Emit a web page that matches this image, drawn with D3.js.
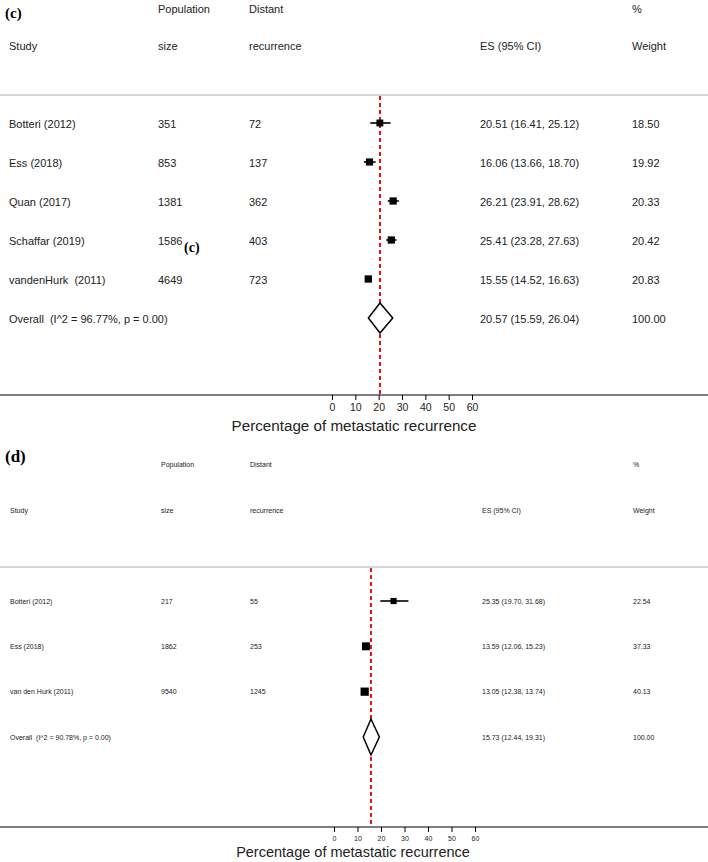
<!DOCTYPE html>
<meta charset="utf-8">
<script src="https://d3js.org/d3.v7.min.js"></script>
<style>
  body { margin: 0; background: #fff; }
  text { font-family: Arial, "Liberation Sans", sans-serif; fill: #222; white-space: pre; }
  .tag { font-family: "Times New Roman", "Liberation Serif", serif; font-weight: bold; fill: #000; }
</style>
<div id="my_dataviz"></div>
<script>
// ---- panel (c) data
const studiesC = ["Botteri (2012)", "Ess (2018)", "Quan (2017)", "Schaffar (2019)", "vandenHurk  (2011)"];
const sizeC = [351, 853, 1381, 1586, 4649];
const recurC = [72, 137, 362, 403, 723];
const esC = [20.51, 16.06, 26.21, 25.41, 15.55];
const lowC = [16.41, 13.66, 23.91, 23.28, 14.52];
const highC = [25.12, 18.70, 28.62, 27.63, 16.63];
const weightC = [18.50, 19.92, 20.33, 20.42, 20.83];
const overallC = { label: "Overall  (I^2 = 96.77%, p = 0.00)", es: 20.57, low: 15.59, high: 26.04, weight: 100.00 };

// ---- panel (d) data
const studiesD = ["Botteri (2012)", "Ess (2018)", "van den Hurk (2011)"];
const sizeD = [217, 1862, 9540];
const recurD = [55, 253, 1245];
const esD = [25.35, 13.59, 13.05];
const lowD = [19.70, 12.06, 12.38];
const highD = [31.68, 15.23, 13.74];
const weightD = [22.54, 37.33, 40.13];
const overallD = { label: "Overall  (I^2 = 90.78%, p = 0.00)", es: 15.73, low: 12.44, high: 19.31, weight: 100.00 };

const ticks = [0, 10, 20, 30, 40, 50, 60];
const headers1 = ["Population", "Distant", "%"];
const headers2 = ["Study", "size", "recurrence", "ES (95% CI)", "Weight"];
const axisTitle = "Percentage of metastatic recurrence";

const W = 708, H = 862;
const svg = d3.select("#my_dataviz").append("svg").attr("width", W).attr("height", H);

function drawPanel(o) {
  const g = svg.append("g");
  const fs = o.fs;
  const cols = o.cols; // study, size, recur, es, weight

  // tag
  g.append("text").attr("class", "tag").attr("x", 5).attr("y", o.tagY)
    .style("font-size", o.tagFs + "px").text(o.tag);

  // headers
  g.append("text").attr("x", cols[1]).attr("y", o.h1Y).style("font-size", fs + "px").text(headers1[0]);
  g.append("text").attr("x", cols[2]).attr("y", o.h1Y).style("font-size", fs + "px").text(headers1[1]);
  g.append("text").attr("x", cols[4]).attr("y", o.h1Y).style("font-size", fs + "px").text(headers1[2]);
  headers2.forEach((h, i) => {
    g.append("text").attr("x", cols[i]).attr("y", o.h2Y).style("font-size", fs + "px").text(h);
  });

  // separator
  g.append("line").attr("x1", 0).attr("x2", W).attr("y1", o.sepY).attr("y2", o.sepY)
    .attr("stroke", "#d6d6d6").attr("stroke-width", 2);

  const x = d3.scaleLinear().domain([0, 60]).range(o.xRange);
  const n = o.studies.length;
  const y = d3.scalePoint().domain(d3.range(n + 1)).range(o.yRange);

  const rows = o.studies.map((s, i) => ({
    study: s, size: o.size[i], recur: o.recur[i], es: o.es[i], low: o.low[i], high: o.high[i], w: o.weight[i], i: i
  }));

  // row texts
  const rg = g.selectAll("g.row").data(rows).enter().append("g").attr("class", "row")
    .attr("transform", d => "translate(0," + (y(d.i) + o.textDy) + ")")
    .style("font-size", fs + "px");
  rg.append("text").attr("x", cols[0]).text(d => d.study);
  rg.append("text").attr("x", cols[1]).text(d => d.size);
  rg.append("text").attr("x", cols[2]).text(d => d.recur);
  rg.append("text").attr("x", cols[3]).text(d => d.es.toFixed(2) + " (" + d.low.toFixed(2) + ", " + d.high.toFixed(2) + ")");
  rg.append("text").attr("x", cols[4]).text(d => d.w.toFixed(2));

  // overall text
  const oy = y(n) + o.textDy;
  const ov = o.overall;
  g.append("text").attr("x", cols[0]).attr("y", oy).style("font-size", fs + "px").text(ov.label);
  g.append("text").attr("x", cols[3]).attr("y", oy).style("font-size", fs + "px")
    .text(ov.es.toFixed(2) + " (" + ov.low.toFixed(2) + ", " + ov.high.toFixed(2) + ")");
  g.append("text").attr("x", cols[4]).attr("y", oy).style("font-size", fs + "px").text(ov.weight.toFixed(2));

  // reference line
  g.append("line").attr("x1", x(ov.es)).attr("x2", x(ov.es)).attr("y1", o.sepY + 1).attr("y2", o.axisY)
    .attr("stroke", "#ee1111").attr("stroke-width", 2).attr("stroke-dasharray", "4,3");

  // CIs and boxes
  g.selectAll("line.ci").data(rows).enter().append("line").attr("class", "ci")
    .attr("x1", d => x(d.low)).attr("x2", d => x(d.high))
    .attr("y1", d => y(d.i)).attr("y2", d => y(d.i))
    .attr("stroke", "#000").attr("stroke-width", 1.6);
  g.selectAll("rect.box").data(rows).enter().append("rect").attr("class", "box")
    .attr("x", d => x(d.es) - o.boxK * Math.sqrt(d.w) / 2)
    .attr("y", d => y(d.i) - o.boxK * Math.sqrt(d.w) / 2)
    .attr("width", d => o.boxK * Math.sqrt(d.w))
    .attr("height", d => o.boxK * Math.sqrt(d.w))
    .attr("fill", "#000");

  // diamond
  const cy = y(n), hh = o.diamondH / 2;
  g.append("path")
    .attr("d", d3.line()([[x(ov.low), cy], [x(ov.es), cy - hh], [x(ov.high), cy], [x(ov.es), cy + hh]]) + "Z")
    .attr("fill", "#fff").attr("stroke", "#000").attr("stroke-width", 1.5);

  // axis
  g.append("line").attr("x1", 0).attr("x2", W).attr("y1", o.axisY).attr("y2", o.axisY)
    .attr("stroke", "#000").attr("stroke-width", 1.2);
  const ax = g.append("g").attr("transform", "translate(0," + o.axisY + ")")
    .call(d3.axisBottom(x).tickValues(ticks).tickSize(5).tickPadding(o.tickPad));
  ax.select(".domain").remove();
  ax.selectAll("text").style("font-size", o.tickFs + "px").style("font-family", "Arial, 'Liberation Sans', sans-serif").attr("fill", "#222");
  g.append("text").attr("x", o.titleX).attr("y", o.titleY)
    .attr("text-anchor", "middle").style("font-size", o.titleFs + "px").text(axisTitle);
  return { g: g, y: y };
}

drawPanel({
  tag: "(c)", tagY: 18, tagFs: 15, fs: 11, cols: [9, 158, 249, 480, 632],
  h1Y: 13, h2Y: 50, sepY: 95,
  studies: studiesC, size: sizeC, recur: recurC, es: esC, low: lowC, high: highC, weight: weightC, overall: overallC,
  xRange: [332, 472], yRange: [123, 318], textDy: 4.5, boxK: 1.6, diamondH: 30,
  axisY: 395, tickPad: 4, tickFs: 10.5, titleX: 354, titleY: 431, titleFs: 15.2
});

// stray panel tag sitting inside the Schaffar row in the original figure
svg.append("text").attr("class", "tag").attr("x", 184).attr("y", 252).style("font-size", "14px").text("(c)");

drawPanel({
  tag: "(d)", tagY: 462, tagFs: 17, fs: 7, cols: [10, 161, 250, 482, 633],
  h1Y: 467, h2Y: 513, sepY: 567,
  studies: studiesD, size: sizeD, recur: recurD, es: esD, low: lowD, high: highD, weight: weightD, overall: overallD,
  xRange: [334, 475], yRange: [601, 737], textDy: 2.8, boxK: 1.3, diamondH: 36,
  axisY: 827, tickPad: 4, tickFs: 7, titleX: 353, titleY: 857, titleFs: 14.5
});
</script>
